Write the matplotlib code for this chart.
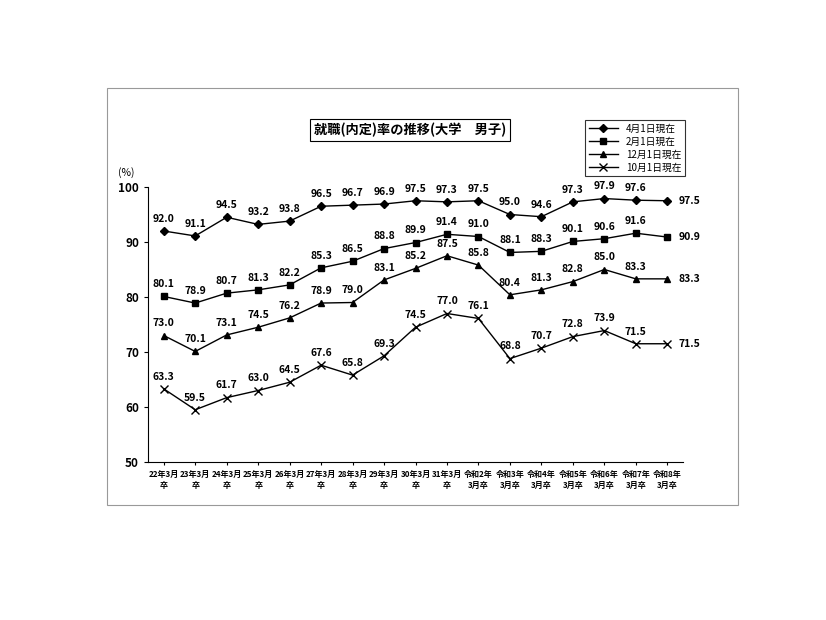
import matplotlib
matplotlib.use("Agg")
import matplotlib.pyplot as plt
from matplotlib.patches import Rectangle

plt.rcParams['font.family'] = ['Noto Sans CJK JP', 'DejaVu Sans']

categories = ["22年3月\n卒","23年3月\n卒","24年3月\n卒","25年3月\n卒","26年3月\n卒","27年3月\n卒",
              "28年3月\n卒","29年3月\n卒","30年3月\n卒","31年3月\n卒","令和2年\n3月卒","令和3年\n3月卒",
              "令和4年\n3月卒","令和5年\n3月卒","令和6年\n3月卒","令和7年\n3月卒","令和8年\n3月卒"]
apr = [92.0,91.1,94.5,93.2,93.8,96.5,96.7,96.9,97.5,97.3,97.5,95.0,94.6,97.3,97.9,97.6,97.5]
feb = [80.1,78.9,80.7,81.3,82.2,85.3,86.5,88.8,89.9,91.4,91.0,88.1,88.3,90.1,90.6,91.6,90.9]
dec = [73.0,70.1,73.1,74.5,76.2,78.9,79.0,83.1,85.2,87.5,85.8,80.4,81.3,82.8,85.0,83.3,83.3]
octo = [63.3,59.5,61.7,63.0,64.5,67.6,65.8,69.3,74.5,77.0,76.1,68.8,70.7,72.8,73.9,71.5,71.5]
labels = ["4月1日現在","2月1日現在","12月1日現在","10月1日現在"]

W, H = 826, 620
fig = plt.figure(figsize=(W/100, H/100), dpi=100)
fig.patches.append(Rectangle((107/W, 1-505/H), (738-107)/W, (505-88)/H, transform=fig.transFigure,
                             fill=False, edgecolor='#999999', lw=0.8))
ax = fig.add_axes([148/W, 1-462/H, (683-148)/W, (462-187)/H])
x = list(range(len(categories)))
series = [(apr,'D',4.5),(feb,'s',4.5),(dec,'^',4.5),(octo,'x',5.5)]
for (vals, m, ms), lab in zip(series, labels):
    ax.plot(x, vals, color='black', lw=1, marker=m, markersize=ms, label=lab)
    for i, v in enumerate(vals):
        if i == len(vals)-1:
            ax.text(i+0.35, v, f"{v:.1f}", ha='left', va='center', fontsize=7.5, fontweight='bold')
        else:
            ax.text(i, v+1.3, f"{v:.1f}", ha='center', va='bottom', fontsize=7.5, fontweight='bold')
ax.set_xlim(-0.5, len(categories)-0.5)
ax.set_ylim(50, 100)
ax.set_yticks([50,60,70,80,90,100])
ax.set_xticks(x)
ax.set_xticklabels(categories, fontsize=5.8, fontweight='bold', linespacing=1.3)
ax.tick_params(axis='y', labelsize=8.5, length=3)
for lab in ax.get_yticklabels():
    lab.set_fontweight('bold')
ax.tick_params(axis='x', length=2, pad=4)
for s in ['top','right']:
    ax.spines[s].set_visible(False)
ax.text(-0.04, 1.04, "(%)", transform=ax.transAxes, fontsize=7.5, ha='center')
fig.text(410/W, 1-130/H, "就職(内定)率の推移(大学　男子)", ha='center', va='center', fontsize=9.5,
         fontweight='bold', bbox=dict(facecolor='white', edgecolor='black', lw=0.8, pad=3))
leg = ax.legend(loc='upper left', bbox_to_anchor=(580/W, 1-115/H), bbox_transform=fig.transFigure,
                fontsize=7, frameon=True, fancybox=False, edgecolor='black', borderpad=0.4,
                labelspacing=0.3, handlelength=3)
leg.get_frame().set_linewidth(0.8)
fig.savefig("out.png", dpi=100)
